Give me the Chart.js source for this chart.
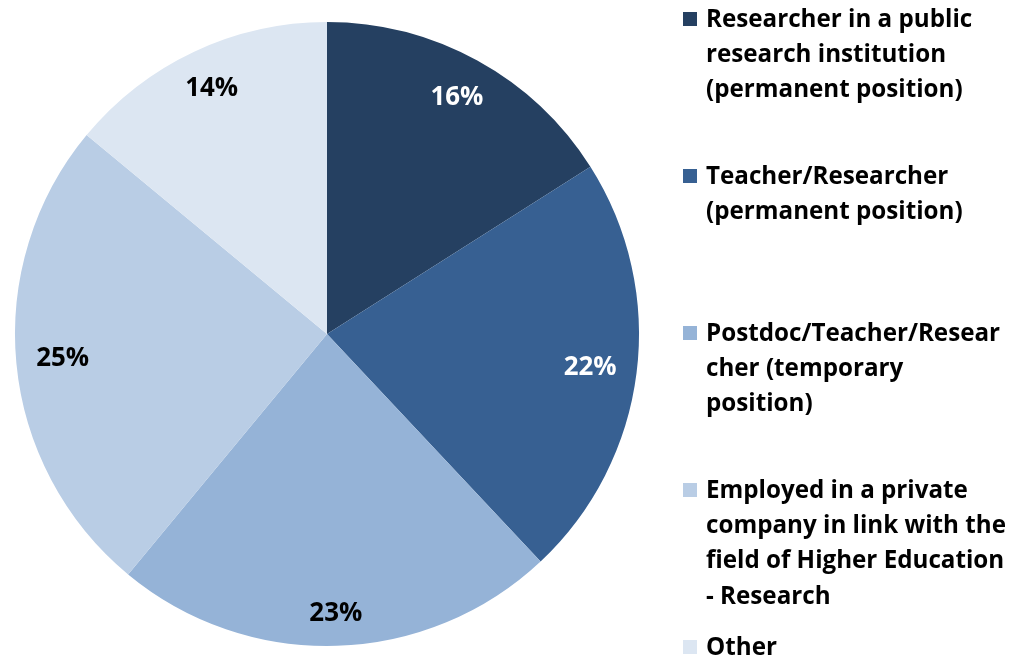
<!DOCTYPE html>
<html>
<head>
<meta charset="utf-8">
<script src="https://cdn.jsdelivr.net/npm/chart.js@4/dist/chart.umd.min.js"></script>
<style>
  html, body { margin: 0; padding: 0; background: #fff; }
  #wrap { position: relative; width: 1024px; height: 661px; }
</style>
</head>
<body>
<div id="wrap"><canvas id="pie"></canvas></div>
<script>
// categories (legend lines) and shares in %
const categories = [
  ['Researcher in a public', 'research institution', '(permanent position)'],
  ['Teacher/Researcher', '(permanent position)'],
  ['Postdoc/Teacher/Resear', 'cher (temporary', 'position)'],
  ['Employed in a private', 'company in link with the', 'field of Higher Education', '- Research'],
  ['Other']
];
const shares = [16, 22, 23, 25, 14];

const sliceColors = ['#254061', '#376092', '#95B3D7', '#B9CDE5', '#DCE6F2'];
const labelColors = ['#FFFFFF', '#FFFFFF', '#000000', '#000000', '#000000'];
const FAMILY = '"Open Sans", "Liberation Sans", sans-serif';

// pick a bold size whose width of `sample` is close to `target`
function fitFont(ctx, sample, target) {
  ctx.font = 'bold 24px ' + FAMILY;
  const size = 24 * target / ctx.measureText(sample).width;
  return 'bold ' + size.toFixed(1) + 'px ' + FAMILY;
}

// percentage labels, placed inside the outer edge like Excel "inside end"
const pieLabels = {
  id: 'pieLabels',
  afterDatasetsDraw(chart) {
    const { ctx } = chart;
    const meta = chart.getDatasetMeta(0);
    ctx.save();
    ctx.font = fitFont(ctx, '16%', 53);
    ctx.textAlign = 'center';
    ctx.textBaseline = 'middle';
    meta.data.forEach((arc, i) => {
      const p = arc.getProps(['x', 'y', 'startAngle', 'endAngle', 'outerRadius']);
      const mid = (p.startAngle + p.endAngle) / 2;
      const txt = shares[i] + '%';
      const hw = ctx.measureText(txt).width / 2;
      const r = p.outerRadius - 19 - (Math.abs(Math.cos(mid)) * hw + Math.abs(Math.sin(mid)) * 12);
      ctx.fillStyle = labelColors[i];
      ctx.fillText(txt, p.x + Math.cos(mid) * r, p.y + Math.sin(mid) * r);
    });
    ctx.restore();
  }
};

// legend on the right, evenly spaced items with wrapped text
const sideLegend = {
  id: 'sideLegend',
  afterDraw(chart) {
    const { ctx } = chart;
    ctx.save();
    ctx.font = fitFont(ctx, categories[0][0], 266);
    ctx.textAlign = 'left';
    ctx.textBaseline = 'middle';
    categories.forEach((lines, i) => {
      const y0 = 19 + i * 157;
      ctx.fillStyle = sliceColors[i];
      ctx.fillRect(683, y0 - 7, 14, 14);
      ctx.fillStyle = '#000';
      lines.forEach((ln, j) => ctx.fillText(ln, 706, y0 + 1 + j * 35.3));
    });
    ctx.restore();
  }
};

new Chart(document.getElementById('pie'), {
  type: 'pie',
  data: {
    labels: categories.map(l => l.join(' ')),
    datasets: [{
      data: shares,
      backgroundColor: sliceColors,
      borderWidth: 0
    }]
  },
  options: {
    responsive: true,
    maintainAspectRatio: false,
    animation: false,
    layout: { padding: { left: 15, right: 385, top: 22, bottom: 15 } },
    plugins: {
      legend: { display: false },
      tooltip: { enabled: false }
    }
  },
  plugins: [pieLabels, sideLegend]
});
</script>
</body>
</html>
